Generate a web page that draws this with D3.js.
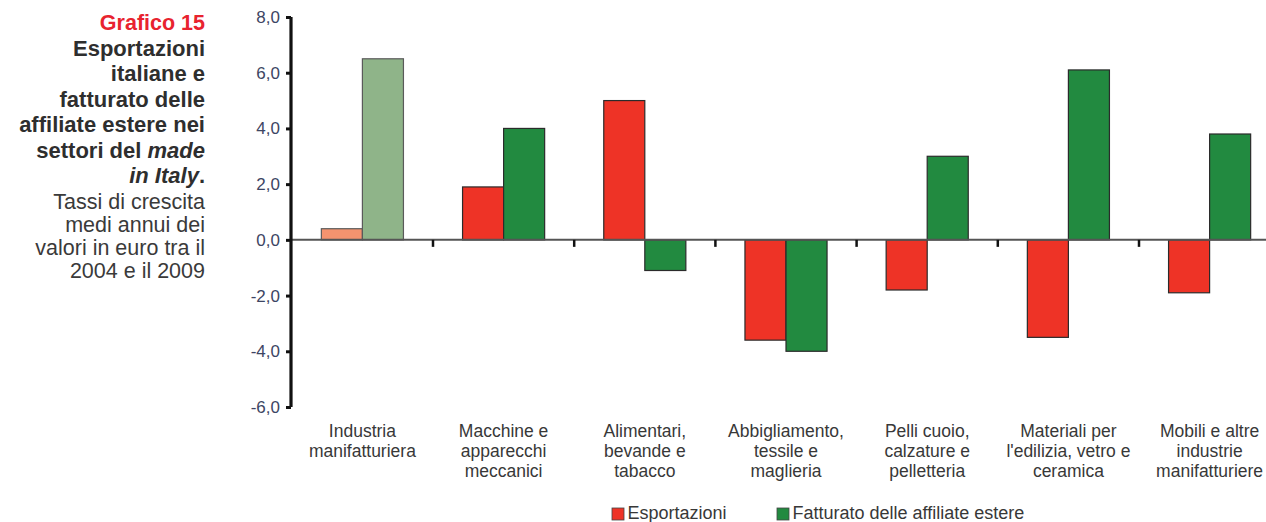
<!DOCTYPE html>
<html>
<head>
<meta charset="utf-8">
<script src="https://cdn.jsdelivr.net/npm/d3@7"></script>
<style>
  html, body { margin: 0; padding: 0; background: #fff; }
  svg { display: block; font-family: "Liberation Sans", Arial, Helvetica, sans-serif; }
</style>
</head>
<body>
<svg id="chart" width="1266" height="522"></svg>
<script>
const categories = [
  ["Industria", "manifatturiera"],
  ["Macchine e", "apparecchi", "meccanici"],
  ["Alimentari,", "bevande e", "tabacco"],
  ["Abbigliamento,", "tessile e", "maglieria"],
  ["Pelli cuoio,", "calzature e", "pelletteria"],
  ["Materiali per", "l'edilizia, vetro e", "ceramica"],
  ["Mobili e altre", "industrie", "manifatturiere"]
];
const seriesNames = ["Esportazioni", "Fatturato delle affiliate estere"];
const esportazioni = [0.4, 1.9, 5.0, -3.6, -1.8, -3.5, -1.9];
const fatturato = [6.5, 4.0, -1.1, -4.0, 3.0, 6.1, 3.8];
const yTicks = [8, 6, 4, 2, 0, -2, -4, -6];
const titleBold = ["Esportazioni", "italiane e", "fatturato delle", "affiliate estere nei"];
const titleSub = ["Tassi di crescita", "medi annui dei", "valori in euro tra il", "2004 e il 2009"];

const colors = ["#EE3326", "#228A40"];
const lightColors = ["#F4936F", "#8FB489"];

const svg = d3.select("#chart");
const catKeys = categories.map(c => c.join(" "));

const x0 = d3.scaleBand().domain(catKeys).range([291.8, 291.8 + 7 * 141.2]).paddingInner(0).paddingOuter(0);
const x1 = d3.scaleBand().domain(seriesNames).range([0, x0.bandwidth()]).paddingInner(0).paddingOuter(0.72);
const y = d3.scaleLinear().domain([-6, 8]).range([407, 17]);

// Title block
const tg = svg.append("g").attr("text-anchor", "end");
tg.append("text").attr("x", 205).attr("y", 30).attr("fill", "#E8232F")
  .attr("font-weight", "bold").attr("font-size", 21.5).text("Grafico 15");
titleBold.forEach((t, i) => {
  tg.append("text").attr("x", 205).attr("y", 55.5 + i * 25.5).attr("fill", "#2e2e2e")
    .attr("font-weight", "bold").attr("font-size", 22).text(t);
});
const t5 = tg.append("text").attr("x", 205).attr("y", 55.5 + 4 * 25.5).attr("fill", "#2e2e2e")
  .attr("font-weight", "bold").attr("font-size", 22);
t5.append("tspan").text("settori del ");
t5.append("tspan").attr("font-style", "italic").text("made");
const t6 = tg.append("text").attr("x", 205).attr("y", 55.5 + 5 * 25.5).attr("fill", "#2e2e2e")
  .attr("font-weight", "bold").attr("font-size", 22);
t6.append("tspan").attr("font-style", "italic").text("in Italy");
t6.append("tspan").text(".");
titleSub.forEach((t, i) => {
  tg.append("text").attr("x", 205).attr("y", 209 + i * 23).attr("fill", "#3a3a3a")
    .attr("font-size", 21.5).text(t);
});

// Bars
const rows = categories.map((c, i) => ({ key: catKeys[i], vals: [esportazioni[i], fatturato[i]], i }));
const groups = svg.append("g").selectAll("g").data(rows).join("g")
  .attr("transform", d => `translate(${x0(d.key)},0)`);
groups.selectAll("rect").data(d => d.vals.map((v, s) => ({ v, s, i: d.i }))).join("rect")
  .attr("x", d => x1(seriesNames[d.s]))
  .attr("width", x1.bandwidth())
  .attr("y", d => y(Math.max(0, d.v)))
  .attr("height", d => Math.abs(y(d.v) - y(0)))
  .attr("fill", d => d.i === 0 ? lightColors[d.s] : colors[d.s])
  .attr("stroke", d => d.i === 0 ? "#5a5a5a" : "#2b2b2b")
  .attr("stroke-width", 1.2);

// X axis line (zero)
svg.append("line").attr("x1", 291).attr("x2", 1266).attr("y1", y(0)).attr("y2", y(0))
  .attr("stroke", "#555").attr("stroke-width", 2);
// X ticks at category boundaries
svg.append("g").selectAll("line").data(catKeys.slice(1)).join("line")
  .attr("x1", d => x0(d)).attr("x2", d => x0(d))
  .attr("y1", y(0)).attr("y2", y(0) + 7)
  .attr("stroke", "#111").attr("stroke-width", 2.5);

// Y axis
const yAxis = d3.axisLeft(y).tickValues(yTicks).tickSize(5).tickPadding(6)
  .tickFormat(d => d3.format(".1f")(d).replace(".", ",").replace("−", "-"));
const ya = svg.append("g").attr("transform", "translate(291,0)").call(yAxis);
ya.select(".domain").attr("stroke", "#111").attr("stroke-width", 3.2).attr("d", `M0,${y(8)}V${y(-6)}`);
ya.selectAll(".tick line").attr("stroke", "#111").attr("stroke-width", 3);
ya.selectAll(".tick text").attr("fill", "#3d4563").attr("font-size", 17)
  .attr("font-family", "'Liberation Sans', Arial, sans-serif");

// Category labels
const lg = svg.append("g").attr("text-anchor", "middle").attr("fill", "#383838").attr("font-size", 17.5);
categories.forEach((lines, i) => {
  const cx = x0(catKeys[i]) + x0.bandwidth() / 2;
  const t = lg.append("text").attr("x", cx).attr("y", 437);
  lines.forEach((l, j) => t.append("tspan").attr("x", cx).attr("y", 437 + j * 20).text(l));
});

// Legend
const legendX = [612, 777];
seriesNames.forEach((n, s) => {
  svg.append("rect").attr("x", legendX[s]).attr("y", 508).attr("width", 12).attr("height", 12)
    .attr("fill", colors[s]).attr("stroke", "#444").attr("stroke-width", 0.8);
  svg.append("text").attr("x", legendX[s] + 15.5).attr("y", 519).attr("fill", "#383838")
    .attr("font-size", 18).text(n);
});
</script>
</body>
</html>
